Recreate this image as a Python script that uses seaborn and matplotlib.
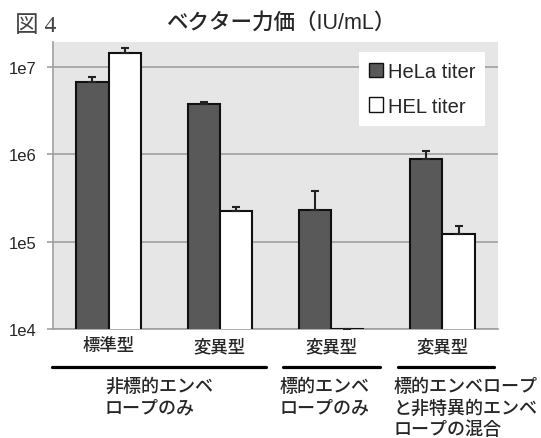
import numpy as np
import pandas as pd
import matplotlib
matplotlib.use("Agg")
import matplotlib.pyplot as plt
from matplotlib.lines import Line2D
import seaborn as sns

# ---- data ----
condition_ids = ["g1", "g2", "g3", "g4"]
tick_labels = ["標準型", "変異型", "変異型", "変異型"]
group_labels = ["非標的エンベ\nロープのみ", "標的エンベ\nロープのみ", "標的エンベロープ\nと非特異的エンベ\nロープの混合"]
series_names = ["HeLa titer", "HEL titer"]
hela_titer = [6.7e6, 3.76e6, 2.28e5, 8.9e5]
hel_titer = [1.45e7, 2.23e5, 1.0e4, 1.23e5]   # third HEL value below detection (axis floor)
hela_err = [1.0e6, 2.1e5, 1.54e5, 1.9e5]
hel_err = [2.0e6, 2.5e4, np.nan, 3.0e4]

df = pd.DataFrame({
    "condition": condition_ids * 2,
    "series": [series_names[0]] * 4 + [series_names[1]] * 4,
    "titer": hela_titer + hel_titer,
})

sns.set_theme(style="white")
plt.rcParams["font.family"] = ["Liberation Sans", "Noto Sans CJK JP"]

fig = plt.figure(figsize=(5.41, 4.39), dpi=100)
ax = fig.add_axes([53 / 541, 1 - 330 / 439, 445 / 541, 287 / 439])
ax.set_facecolor("#e6e6e6")
ax.set_yscale("log")

sns.barplot(data=df, x="condition", y="titer", hue="series",
            palette=["#595959", "#ffffff"], width=0.58, errorbar=None,
            edgecolor="#111111", linewidth=1.5, ax=ax, zorder=3)

errs = [hela_err, hel_err]
for cont, err in zip(ax.containers, errs):
    xs = [b.get_x() + b.get_width() / 2 for b in cont]
    ys = [b.get_y() + b.get_height() for b in cont]
    upper = np.array(err, dtype=float)
    lower = np.zeros_like(upper)
    ax.errorbar(xs, ys, yerr=[lower, upper], fmt="none", ecolor="#222222",
                elinewidth=1.5, capsize=3, capthick=1.5, zorder=4)

ax.set_ylim(1e4, 1.94e7)
ax.set_xlim(-0.5, 3.5)
ax.set_yticks([1e4, 1e5, 1e6, 1e7])
ax.set_yticklabels(["1e4", "1e5", "1e6", "1e7"])
ax.yaxis.set_minor_locator(matplotlib.ticker.NullLocator())
ax.tick_params(axis="y", which="major", length=4, width=1.2, color="#a0a0a0",
               labelsize=12, pad=8, left=True)
ax.set_xticks(range(len(condition_ids)))
ax.set_xticklabels(tick_labels, fontsize=12.5, fontweight="medium")
ax.tick_params(axis="x", length=0, pad=6)
ax.set_xlabel("")
ax.set_ylabel("")
ax.grid(axis="y", which="major", color="#a0a0a0", linewidth=1.2, zorder=1)
ax.set_axisbelow(True)
for s in ["top", "right"]:
    ax.spines[s].set_visible(False)
for s in ["left", "bottom"]:
    ax.spines[s].set_color("#a0a0a0")
    ax.spines[s].set_linewidth(1.2)

leg = ax.legend(loc="upper right", bbox_to_anchor=(0.985, 0.985), fontsize=14.5,
                frameon=True, fancybox=False, framealpha=1, edgecolor="white",
                handlelength=0.7, handleheight=0.7, handletextpad=0.25,
                labelspacing=0.75, borderpad=0.5, borderaxespad=0.3, title=None)
leg.get_frame().set_facecolor("white")
leg.get_frame().set_linewidth(0)
for h in leg.legend_handles:
    h.set_edgecolor("#111111")
    h.set_linewidth(1.0)

# title and figure label
fig.text(281 / 541, 1 - 23 / 439, "ベクター力価（IU/mL）", ha="center", va="center",
         fontsize=15.5, fontweight="medium", family=["Liberation Sans", "Noto Sans CJK JP"])
fig.text(15 / 541, 1 - 26 / 439, "図 4", ha="left", va="center", fontsize=17,
         family=["Liberation Serif", "Noto Sans CJK JP"], color="#444444")

# group underlines and group labels
line_spans = [(52, 266), (283, 380), (398, 494)]
for (x0, x1) in line_spans:
    fig.add_artist(Line2D([x0 / 541, x1 / 541], [1 - 368 / 439] * 2,
                          color="black", linewidth=2.3, transform=fig.transFigure))
label_left = [105, 280, 394]
for xl, txt in zip(label_left, group_labels):
    fig.text(xl / 541, 1 - 378 / 439, txt, ha="left", va="top", fontsize=13,
             fontweight="medium", linespacing=1.25, family=["Noto Sans CJK JP"])

fig.savefig("out.png", dpi=100)
